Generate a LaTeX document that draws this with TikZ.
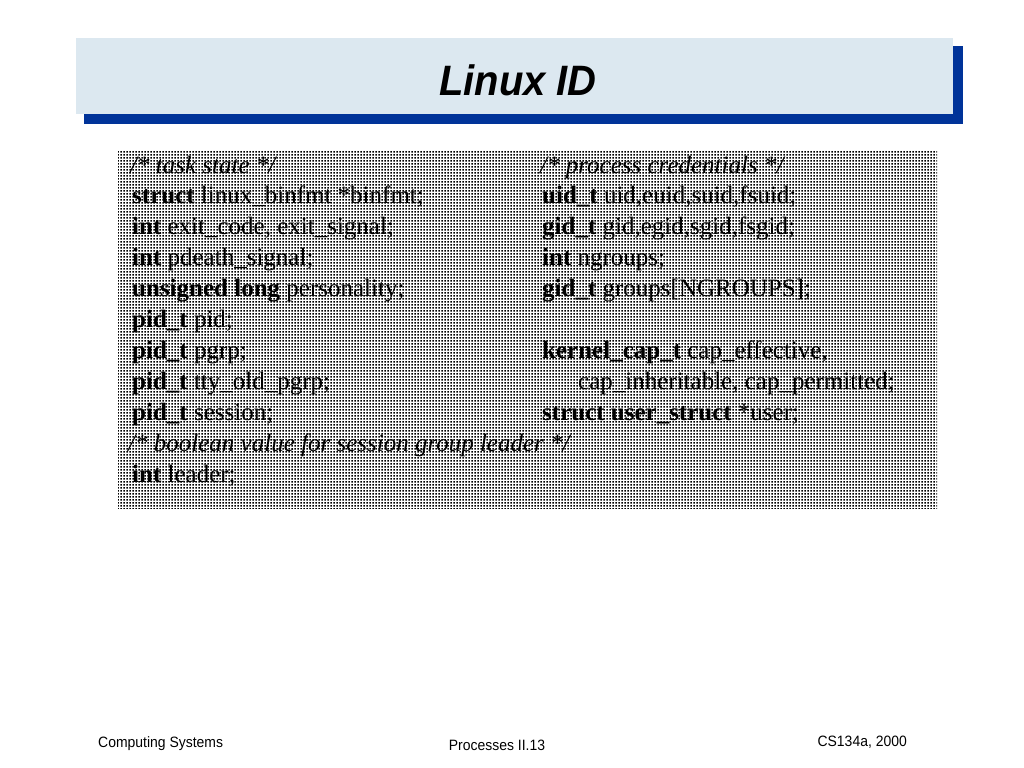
\documentclass[tikz,border=0pt]{standalone}
\usepackage{fontspec}
\setmainfont{Liberation Serif}
\newfontfamily\titlefont[FakeStretch=0.94]{Liberation Sans}
\newfontfamily\footfont[FakeStretch=0.93]{Liberation Sans}
\usetikzlibrary{patterns}
\pgfdeclarepatternformonly{dither}{\pgfqpoint{0bp}{0bp}}{\pgfqpoint{3bp}{3bp}}{\pgfqpoint{3bp}{3bp}}{%
  \pgfpathrectangle{\pgfqpoint{0.5bp}{0.5bp}}{\pgfqpoint{2bp}{2bp}}\pgfusepath{fill}}
\definecolor{titlebg}{HTML}{DCE8F0}
\definecolor{shadowblue}{HTML}{003399}
\newcommand{\kw}[1]{\textbf{#1}}
\newcommand{\cm}[1]{\textit{#1}}
\tikzset{
  codeline/.style={anchor=base west, inner sep=0pt, font=\fontsize{25bp}{30bp}\selectfont},
  footer/.style={inner sep=0pt, font=\footfont\fontsize{15bp}{17bp}\selectfont}
}
\begin{document}
\begin{tikzpicture}[x=1bp,y=-1bp]
\useasboundingbox (0,0) rectangle (1024,768);
\fill[white] (0,0) rectangle (1024,768);
% title bar with shadow
\fill[shadowblue] (84,46) rectangle (963,124);
\fill[titlebg] (76,38) rectangle (953,114);
\node[anchor=base, inner sep=0pt, font=\titlefont\fontsize{42.5bp}{48bp}\selectfont\bfseries\itshape] (title) at (518,96) {Linux ID};
% code box
\fill[white] (118,150) rectangle (937,508);
\fill[pattern=dither, pattern color=black] (118,150) rectangle (937,508);
% left column
\node[codeline] (l1) at (130,173.0) {\cm{/* task state */}};
\node[codeline] (l2) at (132,203.9) {\kw{struct} linux\_binfmt *binfmt;};
\node[codeline] (l3) at (132,234.8) {\kw{int} exit\_code, exit\_signal;};
\node[codeline] (l4) at (132,265.7) {\kw{int} pdeath\_signal;};
\node[codeline] (l5) at (132,296.6) {\kw{unsigned long} personality;};
\node[codeline] (l6) at (132,327.5) {\kw{pid\_t} pid;};
\node[codeline] (l7) at (132,358.4) {\kw{pid\_t} pgrp;};
\node[codeline] (l8) at (132,389.3) {\kw{pid\_t} tty\_old\_pgrp;};
\node[codeline] (l9) at (132,420.2) {\kw{pid\_t} session;};
\node[codeline] (l10) at (128,451.1) {\cm{/* boolean value for session group leader */}};
\node[codeline] (l11) at (132,482.0) {\kw{int} leader;};
% right column
\node[codeline] (r1) at (540,173.0) {\cm{/* process credentials */}};
\node[codeline] (r2) at (542,203.9) {\kw{uid\_t} uid,euid,suid,fsuid;};
\node[codeline] (r3) at (542,234.8) {\kw{gid\_t} gid,egid,sgid,fsgid;};
\node[codeline] (r4) at (542,265.7) {\kw{int} ngroups;};
\node[codeline] (r5) at (542,296.6) {\kw{gid\_t} groups[NGROUPS];};
\node[codeline] (r6) at (542,358.4) {\kw{kernel\_cap\_t} cap\_effective,};
\node[codeline] (r7) at (578,389.3) {cap\_inheritable, cap\_permitted;};
\node[codeline] (r8) at (542,420.2) {\kw{struct} \kw{user\_struct} *user;};
% footer
\node[footer, anchor=base west] (f1) at (98,747) {Computing Systems};
\node[footer, anchor=base] (f2) at (497,750) {Processes II.13};
\node[footer, anchor=base east] (f3) at (907,746) {CS134a, 2000};
\end{tikzpicture}
\end{document}
